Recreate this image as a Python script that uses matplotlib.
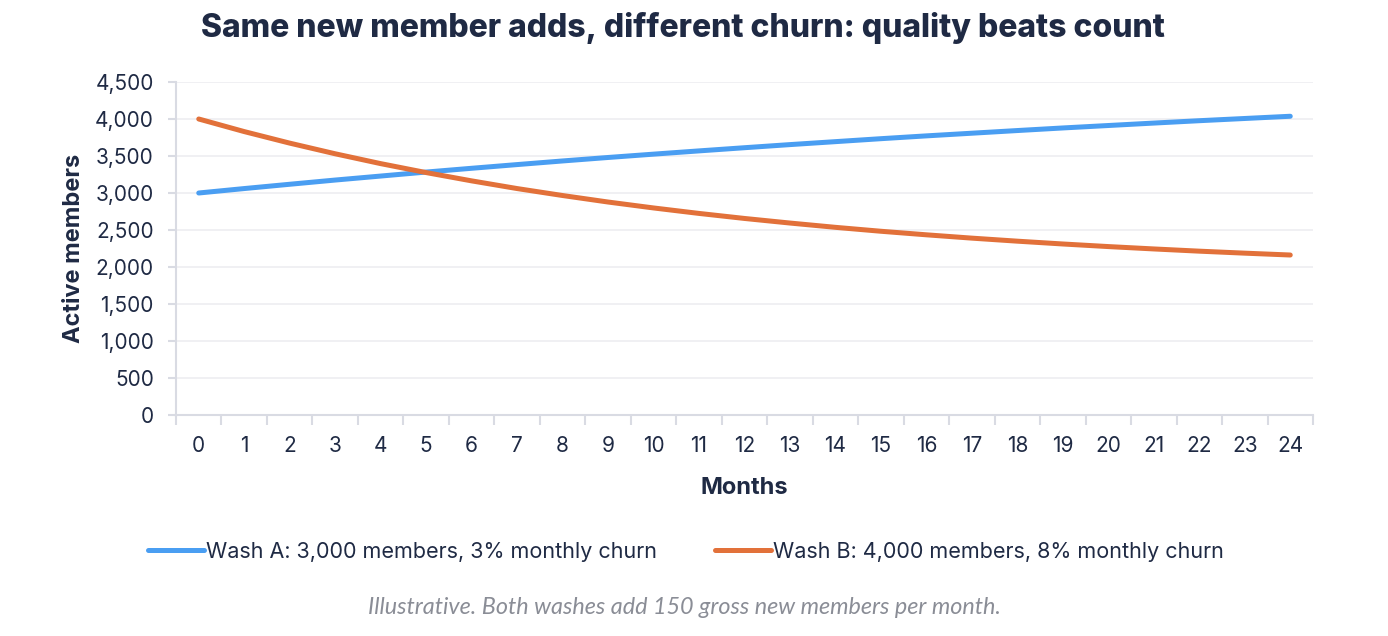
import matplotlib
matplotlib.use("Agg")
import matplotlib.pyplot as plt
from matplotlib.ticker import FuncFormatter, MultipleLocator
from matplotlib.lines import Line2D

# ======= Data =======
months = list(range(25))
wash_a = [3000, 3060, 3118, 3175, 3229, 3283, 3334, 3384, 3433, 3480,
          3525, 3569, 3612, 3654, 3694, 3734, 3772, 3808, 3844, 3879,
          3912, 3945, 3977, 4007, 4037]
wash_b = [4000, 3830, 3674, 3530, 3397, 3276, 3164, 3060, 2966, 2878,
          2798, 2724, 2656, 2594, 2536, 2483, 2435, 2390, 2349, 2311,
          2276, 2244, 2214, 2187, 2162]
label_a = "Wash A: 3,000 members, 3% monthly churn"
label_b = "Wash B: 4,000 members, 8% monthly churn"
TITLE = "Same new member adds, different churn: quality beats count"
NOTE = "Illustrative. Both washes add 150 gross new members per month."

# ======= Style =======
TEXT = "#1f2a44"
BLUE = "#4a9ef2"
ORANGE = "#e2713a"
GRID = "#eeeef1"
AXIS = "#d9dbe3"
plt.rcParams["font.family"] = ["Inter", "DejaVu Sans"]

fig = plt.figure(figsize=(13.88, 6.36), dpi=100)
ax = fig.add_axes([176 / 1388, 1 - 415 / 636, (1313 - 176) / 1388, (415 - 82) / 636])

ax.plot(months, wash_a, color=BLUE, lw=3.6, solid_capstyle="round", zorder=3)
ax.plot(months, wash_b, color=ORANGE, lw=3.6, solid_capstyle="round", zorder=3)

ax.set_xlim(-0.5, 24.5)
ax.set_ylim(0, 4500)
ax.yaxis.set_major_locator(MultipleLocator(500))
ax.yaxis.set_major_formatter(FuncFormatter(lambda v, p: f"{int(v):,}"))
ax.set_xticks(months)
ax.set_xticks([m - 0.5 for m in months] + [24.5], minor=True)
ax.grid(axis="y", color=GRID, lw=1.2, zorder=0)

for s in ["top", "right"]:
    ax.spines[s].set_visible(False)
for s in ["left", "bottom"]:
    ax.spines[s].set_color(AXIS)
    ax.spines[s].set_linewidth(1.5)

ax.tick_params(axis="x", which="major", length=0, pad=15, labelsize=15, labelcolor=TEXT)
ax.tick_params(axis="x", which="minor", length=7, width=1.5, color=AXIS)
ax.tick_params(axis="y", length=6, width=1.5, color=AXIS, labelsize=15,
               labelcolor=TEXT, pad=10)

ax.set_xlabel("Months", fontsize=17, fontweight="bold", color=TEXT, labelpad=15)
ax.set_ylabel("Active members", fontsize=17, fontweight="bold", color=TEXT)
ax.yaxis.set_label_coords(-(176 - 85) / (1313 - 176), 0.5)

fig.text(0.492, 1 - 28 / 636, TITLE, ha="center", va="center",
         fontsize=23, fontweight="heavy", color=TEXT)

handles = [Line2D([], [], color=BLUE, lw=3.6, solid_capstyle="round"),
           Line2D([], [], color=ORANGE, lw=3.6, solid_capstyle="round")]
fig.legend(handles, [label_a, label_b], loc="center", bbox_to_anchor=(0.494, 1 - 552 / 636),
           ncol=2, frameon=False, fontsize=15.5, labelcolor=TEXT,
           handlelength=2.6, handletextpad=0.1, columnspacing=2.7)

fig.text(0.493, 1 - 607 / 636, NOTE, ha="center", va="center", fontsize=16.8,
         style="italic", color="#8a8d96", family=["Lato", "DejaVu Sans"])

fig.savefig("out.png", dpi=100)
